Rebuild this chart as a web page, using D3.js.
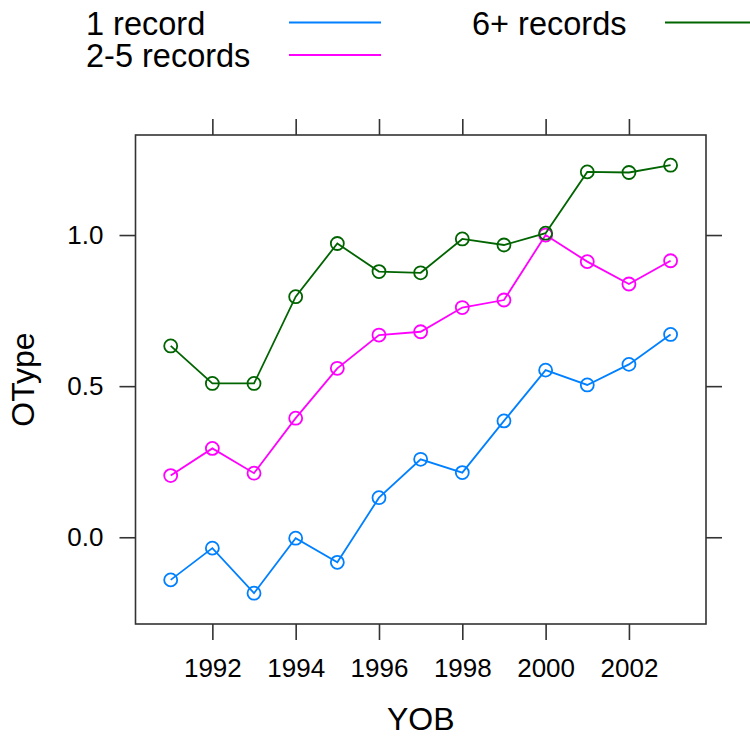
<!DOCTYPE html>
<html>
<head>
<meta charset="utf-8">
<script src="https://cdn.jsdelivr.net/npm/d3@7"></script>
<style>
  html, body { margin: 0; padding: 0; background: #fff; }
  svg { display: block; font-family: "Liberation Sans", Arial, sans-serif; }
</style>
</head>
<body>
<svg id="chart" width="750" height="738"></svg>
<script>
// ---- data ----
const years = [1991, 1992, 1993, 1994, 1995, 1996, 1997, 1998, 1999, 2000, 2001, 2002, 2003];
const seriesNames = ["1 record", "2-5 records", "6+ records"];
const seriesColors = ["#0080ff", "#ff00ff", "#006400"];
const oneRecord   = [-0.141, -0.036, -0.185, -0.003, -0.083, 0.131, 0.258, 0.214, 0.385, 0.553, 0.504, 0.572, 0.671];
const twoToFive   = [0.204, 0.294, 0.212, 0.394, 0.559, 0.669, 0.680, 0.760, 0.785, 1.000, 0.912, 0.838, 0.915];
const sixPlus     = [0.633, 0.509, 0.509, 0.796, 0.972, 0.879, 0.875, 0.987, 0.967, 1.006, 1.209, 1.207, 1.231];
const xTickValues = [1992, 1994, 1996, 1998, 2000, 2002];
const yTickValues = [0.0, 0.5, 1.0];
const xTitle = "YOB";
const yTitle = "OType";

const allSeries = [oneRecord, twoToFive, sixPlus];

// ---- layout ----
const panel = { left: 135.5, right: 706, top: 135, bottom: 624 };
const svg = d3.select("#chart");

const x = d3.scaleLinear().domain([1990.155, 2003.85]).range([panel.left, panel.right]);
const y = d3.scaleLinear().domain([-0.287, 1.331]).range([panel.bottom, panel.top]);

const axisColor = "#333";
const tickFont = 26;

function styleAxis(g) {
  g.select(".domain").remove();
  g.selectAll(".tick line").attr("stroke", axisColor).attr("stroke-width", 1.6);
  g.selectAll(".tick text").attr("fill", "#000").style("font-size", tickFont + "px")
    .style("font-family", "'Liberation Sans', Arial, sans-serif");
}

// bottom axis with labels
svg.append("g").attr("transform", `translate(0,${panel.bottom})`)
  .call(d3.axisBottom(x).tickValues(xTickValues).tickSize(16).tickPadding(19).tickFormat(d3.format("d")))
  .call(styleAxis);
// top axis ticks only
svg.append("g").attr("transform", `translate(0,${panel.top})`)
  .call(d3.axisTop(x).tickValues(xTickValues).tickSize(16).tickFormat(""))
  .call(styleAxis);
// left axis with labels
svg.append("g").attr("transform", `translate(${panel.left},0)`)
  .call(d3.axisLeft(y).tickValues(yTickValues).tickSize(16).tickPadding(16).tickFormat(d3.format(".1f")))
  .call(styleAxis);
// right axis ticks only
svg.append("g").attr("transform", `translate(${panel.right},0)`)
  .call(d3.axisRight(y).tickValues(yTickValues).tickSize(16).tickFormat(""))
  .call(styleAxis);

// panel border
svg.append("rect")
  .attr("x", panel.left).attr("y", panel.top)
  .attr("width", panel.right - panel.left).attr("height", panel.bottom - panel.top)
  .attr("fill", "none").attr("stroke", axisColor).attr("stroke-width", 1.6);

// series
const line = d3.line().x((d, i) => x(years[i])).y(d => y(d));
allSeries.forEach((vals, si) => {
  const g = svg.append("g");
  g.append("path").datum(vals)
    .attr("d", line)
    .attr("fill", "none")
    .attr("stroke", seriesColors[si])
    .attr("stroke-width", 1.8);
  g.selectAll("circle").data(vals).join("circle")
    .attr("cx", (d, i) => x(years[i]))
    .attr("cy", d => y(d))
    .attr("r", 6.5)
    .attr("fill", "none")
    .attr("stroke", seriesColors[si])
    .attr("stroke-width", 1.8);
});

// axis titles
svg.append("text")
  .attr("x", (panel.left + panel.right) / 2).attr("y", 730)
  .attr("text-anchor", "middle").style("font-size", "32px").attr("fill", "#000")
  .text(xTitle);
svg.append("text")
  .attr("transform", `translate(34,${(panel.top + panel.bottom) / 2}) rotate(-90)`)
  .attr("text-anchor", "middle").style("font-size", "32px").attr("fill", "#000")
  .text(yTitle);

// legend
const legendItems = [
  { name: seriesNames[0], color: seriesColors[0], tx: 86, ty: 35, lx1: 289, lx2: 381, ly: 22.5 },
  { name: seriesNames[1], color: seriesColors[1], tx: 86, ty: 67, lx1: 289, lx2: 381, ly: 55 },
  { name: seriesNames[2], color: seriesColors[2], tx: 472, ty: 35, lx1: 665, lx2: 760, ly: 22.5 }
];
const lg = svg.append("g");
legendItems.forEach(it => {
  lg.append("text").attr("x", it.tx).attr("y", it.ty)
    .style("font-size", "32.5px").attr("fill", "#000").text(it.name);
  lg.append("line").attr("x1", it.lx1).attr("x2", it.lx2).attr("y1", it.ly).attr("y2", it.ly)
    .attr("stroke", it.color).attr("stroke-width", 2);
});
</script>
</body>
</html>
